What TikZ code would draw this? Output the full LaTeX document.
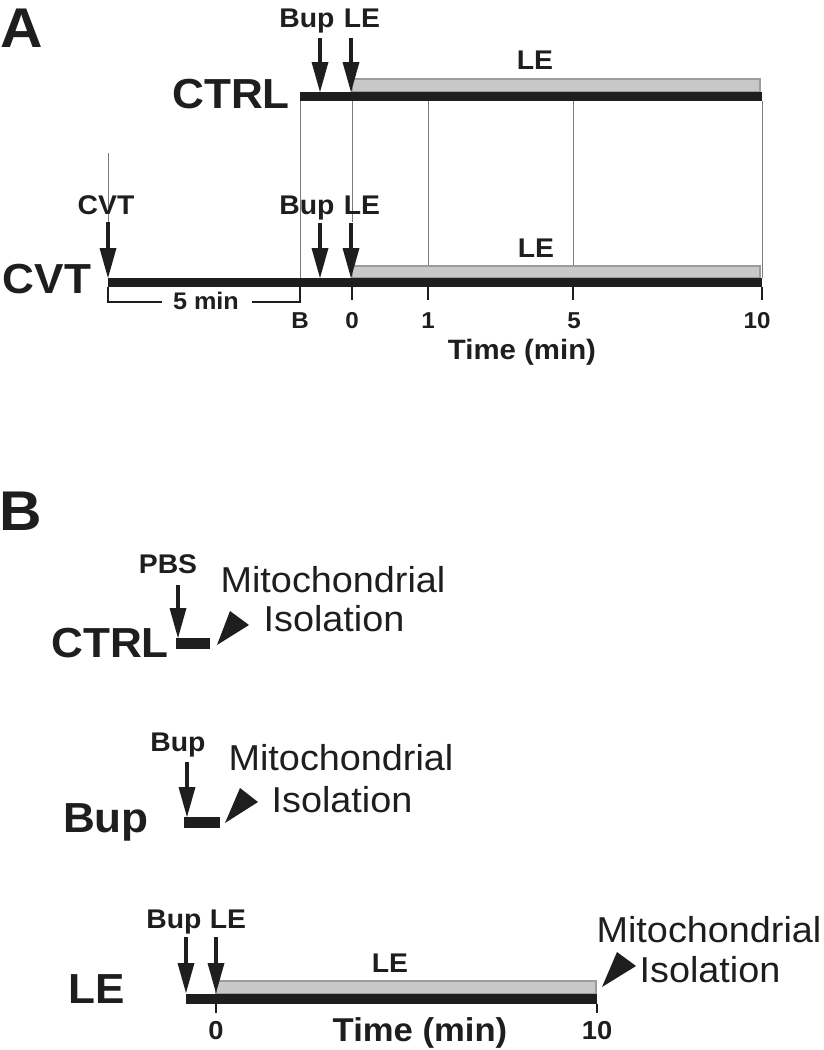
\documentclass[tikz,border=0pt]{standalone}
\usepackage{fontspec}
\setmainfont{Liberation Sans}[FakeStretch=1.05]
\usetikzlibrary{arrows.meta}
\definecolor{barblack}{HTML}{1E1E1E}
\definecolor{barfill}{HTML}{C8C8C8}
\definecolor{barline}{HTML}{9C9C9C}
\definecolor{gridgray}{HTML}{7A7A7A}
\begin{document}
\begin{tikzpicture}[x=1pt,y=-1pt,
  txt/.style={inner sep=0pt, outer sep=0pt, anchor=base, text=barblack},
  panel/.style={txt, font=\bfseries\fontsize{56}{60}\selectfont},
  big/.style={txt, font=\bfseries\fontsize{42}{46}\selectfont},
  small/.style={txt, font=\bfseries\fontsize{27}{30}\selectfont},
  ticklab/.style={txt, font=\bfseries\fontsize{23}{26}\selectfont},
  timelab/.style={txt, font=\bfseries\fontsize{28}{30}\selectfont},
  mito/.style={txt, font=\fontsize{36}{40}\selectfont},
  blackbar/.style={fill=barblack, draw=none},
  greybar/.style={fill=barfill, draw=barline, line width=2pt},
  gridline/.style={draw=gridgray, line width=0.9pt},
  tickline/.style={draw=barblack, line width=2pt},
  bracketline/.style={draw=barblack, line width=1.6pt},
  dose/.style={draw=barblack, line width=4.5pt, -{Triangle[width=17pt,length=30pt,line width=0pt]}},
  headtri/.style={fill=barblack, draw=none}
]
\useasboundingbox (0,0) rectangle (824,1050);

% ================= Panel A =================
\node[panel, anchor=base west] (A) at (1,47) {A};

% --- CTRL row ---
\node[big] (ctrlA) at (231,108) {CTRL};
\node[small] (bupA1) at (307,27) {Bup};
\node[small] (leA1) at (362,27) {LE};
\draw[greybar] (352,79) rectangle (760,92);
\fill[blackbar] (300,92) rectangle (762,101);
\node[small] (leA1lab) at (535,69) {LE};
\coordinate (a1bupS) at (320,38); \coordinate (a1bupE) at (320,92);
\coordinate (a1leS) at (351,38);  \coordinate (a1leE) at (351,92);
\draw[dose] (a1bupS) -- (a1bupE);
\draw[dose] (a1leS) -- (a1leE);

% --- vertical guide lines ---
\coordinate (gB1) at (300,101);  \coordinate (gB2) at (300,278);
\coordinate (g01) at (352,101);  \coordinate (g02) at (352,222);
\coordinate (g11) at (428,101);  \coordinate (g12) at (428,265);
\coordinate (g51) at (573,101);  \coordinate (g52) at (573,265);
\coordinate (gX1) at (762,101);  \coordinate (gX2) at (762,278);
\coordinate (gC1) at (108,153);  \coordinate (gC2) at (108,222);
\draw[gridline] (gB1) -- (gB2);
\draw[gridline] (g01) -- (g02);
\draw[gridline] (g11) -- (g12);
\draw[gridline] (g51) -- (g52);
\draw[gridline] (gX1) -- (gX2);
\draw[gridline] (gC1) -- (gC2);

% --- CVT row ---
\node[big] (cvtA) at (47,293) {CVT};
\node[small] (cvtlab) at (106,214) {CVT};
\node[small] (bupA2) at (307,214) {Bup};
\node[small] (leA2) at (362,214) {LE};
\draw[greybar] (352,266) rectangle (760,278);
\fill[blackbar] (108,278) rectangle (762,287);
\node[small] (leA2lab) at (536,257) {LE};
\coordinate (a2cvtS) at (108,222); \coordinate (a2cvtE) at (108,278);
\coordinate (a2bupS) at (320,223); \coordinate (a2bupE) at (320,278);
\coordinate (a2leS) at (351,223);  \coordinate (a2leE) at (351,278);
\draw[dose] (a2cvtS) -- (a2cvtE);
\draw[dose] (a2bupS) -- (a2bupE);
\draw[dose] (a2leS) -- (a2leE);

% ticks
\draw[tickline] (352,287) -- (352,300);
\draw[tickline] (428,287) -- (428,300);
\draw[tickline] (573,287) -- (573,300);
\draw[tickline] (762,287) -- (762,300);
% 5 min bracket
\draw[bracketline] (108,287) -- (108,302) -- (162,302);
\draw[bracketline] (252,302) -- (300,302) -- (300,287);
\node[ticklab, font=\bfseries\fontsize{24}{26}\selectfont] (fivemin) at (206,309) {5 min};

\node[ticklab] (tB) at (300,328) {B};
\node[ticklab] (t0) at (352,328) {0};
\node[ticklab] (t1) at (428,328) {1};
\node[ticklab] (t5) at (574,328) {5};
\node[ticklab] (t10) at (757,328) {10};
\node[timelab] (timeA) at (522,359) {Time (min)};

% ================= Panel B =================
\node[panel, anchor=base west] (B) at (-1,530) {B};

% --- CTRL ---
\node[big] (ctrlB) at (110,657) {CTRL};
\node[small] (pbs) at (168,573) {PBS};
\fill[blackbar] (176,638) rectangle (210,649);
\coordinate (bpS) at (178,585); \coordinate (bpE) at (178,638);
\draw[dose] (bpS) -- (bpE);
\fill[headtri] (217,645) -- (230,611) -- (249,625) -- cycle;
\node[mito] (mito1) at (333,592) {Mitochondrial};
\node[mito] (iso1) at (334,631) {Isolation};

% --- Bup ---
\node[big] (bupB) at (106,832) {Bup};
\node[small] (bupBlab) at (178,751) {Bup};
\fill[blackbar] (184,817) rectangle (220,828);
\coordinate (bbS) at (187,762); \coordinate (bbE) at (187,817);
\draw[dose] (bbS) -- (bbE);
\fill[headtri] (225,823) -- (240,788) -- (258,802) -- cycle;
\node[mito] (mito2) at (341,770) {Mitochondrial};
\node[mito] (iso2) at (342,812) {Isolation};

% --- LE ---
\node[big] (leB) at (97,1003) {LE};
\node[small] (bupB3) at (174,928) {Bup};
\node[small] (leB3) at (228,928) {LE};
\draw[greybar] (216,981) rectangle (596,994);
\fill[blackbar] (186,994) rectangle (597,1004);
\node[small] (leB3lab) at (390,972) {LE};
\coordinate (b3bupS) at (186,937); \coordinate (b3bupE) at (186,993);
\coordinate (b3leS) at (216,937);  \coordinate (b3leE) at (216,993);
\draw[dose] (b3bupS) -- (b3bupE);
\draw[dose] (b3leS) -- (b3leE);
\draw[tickline] (216,1004) -- (216,1013);
\draw[tickline] (597,1004) -- (597,1013);
\node[txt, font=\bfseries\fontsize{26}{28}\selectfont] (tb0) at (216,1039) {0};
\node[txt, font=\bfseries\fontsize{26}{28}\selectfont] (tb10) at (597,1039) {10};
\node[txt, font=\bfseries\fontsize{33}{36}\selectfont] (timeB) at (420,1041) {Time (min)};
\fill[headtri] (602,987) -- (617,952) -- (636,966) -- cycle;
\node[mito] (mito3) at (709,942) {Mitochondrial};
\node[mito] (iso3) at (710,982) {Isolation};
\end{tikzpicture}
\end{document}
